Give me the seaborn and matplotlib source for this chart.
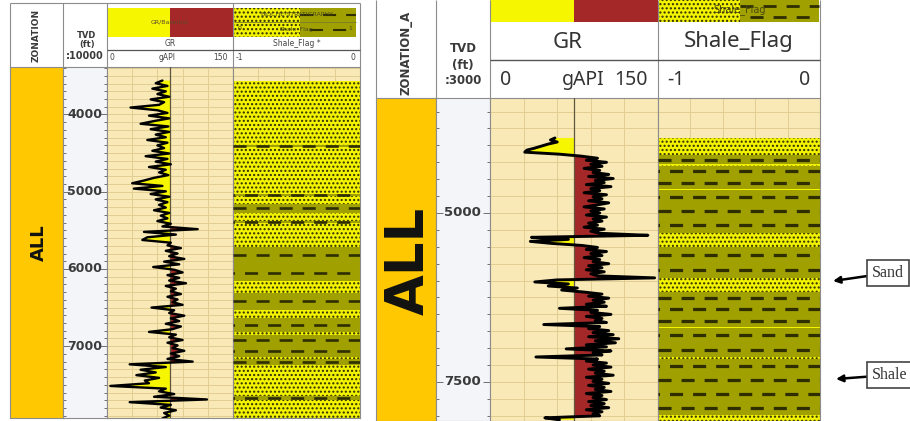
import numpy as np
import matplotlib
matplotlib.use('Agg')
import matplotlib.pyplot as plt
from matplotlib.patches import Rectangle
from matplotlib.ticker import MultipleLocator
import seaborn as sns

sns.set_style('white')
plt.rcParams['font.family'] = ['DejaVu Sans']
plt.rcParams['hatch.linewidth'] = 1.0
plt.rcParams['lines.scale_dashes'] = False

# scales
GR_MIN, GR_MAX, GR_BASE = 0, 150, 75
FLAG_MIN, FLAG_MAX = -1, 0
ZONE = 'ALL'

# left well: GR (gAPI) sampled from 3560 ft every 35 ft
LEFT_GR_START, LEFT_GR_STEP = 3560, 35
LEFT_GR = [
    66, 58, 72, 54, 70, 60, 74, 52, 68, 62,
    28, 60,
    72, 50, 74, 56, 40, 73, 52, 74, 58, 70, 48, 72, 60, 68,
    54, 74, 46, 72, 58, 76, 50, 70, 62, 73, 56,
    44, 30, 66, 32,
    70, 52, 74, 58, 72, 62, 70,
    56, 74, 64, 72, 60, 76, 66,
    108, 44, 82, 48, 42, 76,
    72, 88, 70, 84, 74, 92, 68, 86, 55, 80,
    90, 72, 86, 74, 94, 70, 82, 76, 88, 72,
    84, 78, 90, 53, 80, 74, 92, 76, 86, 70,
    88, 78, 50, 82, 74, 90, 72, 84, 78, 92,
    76, 86, 72, 102, 27, 70,
    40, 58, 35, 62, 45, 50,
    4,
    70, 62, 80, 56, 119, 27, 76, 64, 82, 68, 74, 66,
]
# left well: lithology beds (boundaries in ft)
LEFT_BED_BOUNDS = [3560, 4390, 4425, 5030, 5060, 5160, 5270, 5380, 5410, 5710, 6160,
                   6310, 6530, 6640, 6815, 6850, 7140, 7170, 7240, 7640, 7700, 7930]
LEFT_BED_LITH = ['sand', 'shale', 'sand', 'shale', 'sand', 'shale', 'sand', 'shale',
                 'sand', 'shale', 'sand', 'shale', 'sand', 'shale', 'sand', 'shale',
                 'sand', 'shale', 'sand', 'shale', 'sand']

# right well: GR (gAPI) sampled from 3890 ft every 30 ft
RIGHT_GR_START, RIGHT_GR_STEP = 3890, 30
RIGHT_GR = [
    58, 54, 60, 52, 46, 40, 33, 31,
    62,
    82, 96, 86, 104, 90, 100, 84, 98, 92, 106, 88, 110, 94, 102, 86, 108, 90, 98, 84, 104,
    92, 100, 88, 106, 96, 84, 102, 90, 98, 86, 104, 92, 100, 88, 96, 84, 102, 90, 98, 141,
    37, 70, 36, 55, 82,
    96, 86, 104, 90, 100, 84, 98, 92, 106, 88, 100, 86, 102, 90, 96,
    147, 60, 40, 70, 52, 78, 64,
    84, 100, 88, 106, 92, 102, 86, 104, 62, 96, 90, 108, 86, 100, 94, 104, 48, 98, 88,
    106, 92, 110, 88, 115, 94, 112, 86, 104, 68, 108, 92, 100, 41, 96, 86, 104, 92, 108,
    88, 102, 94, 110, 86, 100, 92, 106, 88, 102, 94, 108, 86, 100, 92, 104, 88,
    102, 90, 106, 86, 100, 92, 98, 49, 62,
]
RIGHT_BED_BOUNDS = [3890, 4140, 4280, 4300, 4640, 4660, 5290, 5500, 5960, 6170,
                    6680, 6700, 7135, 7160, 7985, 8090]
RIGHT_BED_LITH = ['sand', 'shale', 'sand', 'shale', 'sand', 'shale', 'sand', 'shale',
                  'sand', 'shale', 'sand', 'shale', 'sand', 'shale', 'sand']

# colours
GOLD = '#FFC800'
BEIGE = '#F8E9B6'
YELLOW = '#F6F600'
RED = '#A52828'
SAND = '#F3F300'
SHALE = '#A0A000'
DOT = '#2e2e08'
DASH = '#2e2e00'
GRID = '#E2CE92'
TVD_BG = '#F3F5F9'
EDGE = '#8c8c8c'
TXT = '#3a3a3a'
DASH_SPACING = 190  # ft between shale dash rows

W, H = 910, 421

LEFT_PANEL = dict(cols=(10, 63, 107, 233, 360), body=(67, 418), depth=(3385, 7930),
                  grid=100, label=1000, label_x=0.89, label_fs=9, lw=1.7,
                  dash=(9.4, 7.2), dash_lw=1.9)
RIGHT_PANEL = dict(cols=(376, 436, 490, 658, 820), body=(98, 421), depth=(3299, 8077),
                   grid=250, label=2500, label_x=0.83, label_fs=9.5, lw=2.1,
                   dash=(9.4, 7.2), dash_lw=2.3)

fig = plt.figure(figsize=(W / 100, H / 100), dpi=100)
ov = fig.add_axes([0, 0, 1, 1], zorder=10)
ov.set_xlim(0, W)
ov.set_ylim(H, 0)
ov.axis('off')


def px_rect(x0, y0, x1, y1):
    return [x0 / W, 1 - y1 / H, (x1 - x0) / W, (y1 - y0) / H]


def hline(y, x0, x1, color=EDGE, lw=0.8):
    ov.plot([x0, x1], [y, y], color=color, lw=lw, solid_capstyle='butt')


def vline(x, y0, y1, color=EDGE, lw=0.8):
    ov.plot([x, x], [y0, y1], color=color, lw=lw, solid_capstyle='butt')


def litho_box(x0, y0, x1, y1, lith, dash_lw, rows=1):
    if lith == 'sand':
        ov.add_patch(Rectangle((x0, y0), x1 - x0, y1 - y0, facecolor=SAND, hatch='....',
                               edgecolor=DOT, lw=0))
    else:
        ov.add_patch(Rectangle((x0, y0), x1 - x0, y1 - y0, facecolor=SHALE, lw=0))
        for k in range(rows):
            y = y0 + (k + 0.5) * (y1 - y0) / rows
            ov.plot([x0, x1], [y, y], color=DASH, lw=dash_lw,
                    dashes=(9.4, 7.2) if k % 2 == 0 else (0, 7.2, 9.4, 0.01))


def draw_tracks(cfg, gr_start, gr_step, gr_values, bounds, lith):
    xz, xt, xg, xf, xe = cfg['cols']
    yt, yb = cfg['body']
    top, base = cfg['depth']

    ax_zone = fig.add_axes(px_rect(xz, yt, xt, yb))
    ax_tvd = fig.add_axes(px_rect(xt, yt, xg, yb), sharey=ax_zone)
    ax_gr = fig.add_axes(px_rect(xg, yt, xf, yb), sharey=ax_zone)
    ax_flag = fig.add_axes(px_rect(xf, yt, xe, yb), sharey=ax_zone)
    ax_zone.set_ylim(base, top)
    ax_zone.yaxis.set_major_locator(MultipleLocator(cfg['label']))
    ax_zone.yaxis.set_minor_locator(MultipleLocator(cfg['grid']))

    for ax in (ax_zone, ax_tvd, ax_gr, ax_flag):
        ax.tick_params(which='both', left=False, right=False, bottom=False,
                       labelleft=False, labelbottom=False)
        for s in ax.spines.values():
            s.set_color(EDGE)
            s.set_linewidth(0.8)
    ax_zone.set_facecolor(GOLD)
    ax_zone.set_xticks([])
    ax_tvd.set_xticks([])

    # depth column
    ax_tvd.set_facecolor(TVD_BG)
    ax_tvd.tick_params(axis='y', which='both', left=True, right=True, direction='in',
                       color='#6f6f6f', width=0.7)
    ax_tvd.tick_params(axis='y', which='major', length=5)
    ax_tvd.tick_params(axis='y', which='minor', length=2.5)
    for d in ax_tvd.yaxis.get_majorticklocs():
        if top < d < base:
            ax_tvd.text(cfg['label_x'], d, f'{d:.0f}', transform=ax_tvd.get_yaxis_transform(),
                        ha='right', va='center', fontsize=cfg['label_fs'],
                        fontweight='bold', color=TXT)

    # GR track with baseline shading
    depth = gr_start + gr_step * np.arange(len(gr_values))
    gr = np.asarray(gr_values, dtype=float)
    ax_gr.set_facecolor(BEIGE)
    ax_gr.set_xlim(GR_MIN, GR_MAX)
    ax_gr.set_xticks(np.arange(GR_MIN, GR_MAX + 1, 30))
    ax_gr.grid(True, which='both', color=GRID, lw=0.7)
    ax_gr.set_axisbelow(True)
    ax_gr.fill_betweenx(depth, gr, GR_BASE, where=gr <= GR_BASE, interpolate=True,
                        color=YELLOW, lw=0, zorder=2)
    ax_gr.fill_betweenx(depth, gr, GR_BASE, where=gr >= GR_BASE, interpolate=True,
                        color=RED, lw=0, zorder=2)
    ax_gr.axvline(GR_BASE, color='#5f5640', lw=0.9, zorder=3)
    sns.lineplot(x=gr, y=depth, orient='y', sort=False, estimator=None, color='black',
                 lw=cfg['lw'], ax=ax_gr, zorder=4, legend=False)
    ax_gr.set_xlabel('')
    ax_gr.set_ylabel('')

    # Shale_Flag track
    ax_flag.set_facecolor(BEIGE)
    ax_flag.set_xlim(FLAG_MIN, FLAG_MAX)
    ax_flag.set_xticks(np.linspace(FLAG_MIN, FLAG_MAX, 6))
    ax_flag.grid(True, which='both', color=GRID, lw=0.7)
    ax_flag.set_axisbelow(True)
    tops, bases = np.array(bounds[:-1], float), np.array(bounds[1:], float)
    sand = np.array(lith) == 'sand'
    ax_flag.barh((tops + bases)[sand] / 2, FLAG_MAX - FLAG_MIN, height=(bases - tops)[sand],
                 left=FLAG_MIN, color=SAND, hatch='....', edgecolor=DOT, linewidth=0, zorder=2)
    ax_flag.barh((tops + bases)[~sand] / 2, FLAG_MAX - FLAG_MIN, height=(bases - tops)[~sand],
                 left=FLAG_MIN, color=SHALE, linewidth=0, zorder=2)
    rows = []
    for t, b in zip(tops[~sand], bases[~sand]):
        n = max(1, int(round((b - t) / DASH_SPACING)))
        rows.extend(t + (np.arange(n) + 0.5) * (b - t) / n)
    on, off = cfg['dash']
    styles = [((i % 2) * (on + off) / 2, (on, off)) for i in range(len(rows))]
    ax_flag.hlines(rows, FLAG_MIN, FLAG_MAX, colors=DASH, linewidth=cfg['dash_lw'],
                   linestyles=styles, zorder=3)

    ax_zone.set_ylim(base, top)


draw_tracks(LEFT_PANEL, LEFT_GR_START, LEFT_GR_STEP, LEFT_GR, LEFT_BED_BOUNDS, LEFT_BED_LITH)
draw_tracks(RIGHT_PANEL, RIGHT_GR_START, RIGHT_GR_STEP, RIGHT_GR, RIGHT_BED_BOUNDS, RIGHT_BED_LITH)


def base_x(cols):
    xg, xf = cols[2], cols[3]
    return xg + (GR_BASE - GR_MIN) / (GR_MAX - GR_MIN) * (xf - xg)


# ---- left header ----
xz, xt, xg, xf, xe = LEFT_PANEL['cols']
xb = base_x(LEFT_PANEL['cols'])
for x in (xz, xt, xg, xf, xe):
    vline(x, 3, 67)
hline(3, xz, xe)
ov.add_patch(Rectangle((xg, 8), xb - xg, 29, facecolor=YELLOW, lw=0))
ov.add_patch(Rectangle((xb, 8), xf - xb, 29, facecolor=RED, lw=0))
ov.text((xg + xf) / 2, 22, 'GR/Baseline', ha='center', va='center', fontsize=4.5, color='#5a4a2a')
litho_box(xf + 1, 8, 300, 37, 'sand', 1.5)
litho_box(300, 8, xe - 4, 37, 'shale', 1.5, rows=2)
hline(22, xf + 1, xe - 4, color='#7a7a30', lw=0.6)
ov.text((xf + xe) / 2, 15, 'BIOCHE-STRATIGRAPHY', ha='center', va='center', fontsize=4.5, color='#4a4a20')
ov.text(xf + 5, 29, '0', ha='left', va='center', fontsize=4.5, color='#4a4a20')
ov.text((xf + xe) / 2, 29, 'Shale_Flag', ha='center', va='center', fontsize=4.5, color='#4a4a20')
ov.text(xe - 8, 29, '1', ha='right', va='center', fontsize=4.5, color='#4a4a20')
ov.text((xg + xf) / 2, 44, 'GR', ha='center', va='center', fontsize=5.5, color='#444444')
ov.text((xf + xe) / 2, 44, 'Shale_Flag *', ha='center', va='center', fontsize=5.5, color='#444444')
hline(50, xg, xe, color='#555555', lw=0.9)
for x, s, ha in ((xg + 3, '0', 'left'), ((xg + xf) / 2 - 3, 'gAPI', 'center'), (xf - 5, '150', 'right'),
                 (xf + 3, '-1', 'left'), (xe - 5, '0', 'right')):
    ov.text(x, 58, s, ha=ha, va='center', fontsize=5.5, color='#444444')
ov.text((xz + xt) / 2, 35, 'ZONATION', rotation=90, ha='center', va='center',
        fontsize=6.5, fontweight='bold', color=TXT)
ov.text((xt + xg) / 2 + 2, 36, 'TVD', ha='center', va='center', fontsize=6, fontweight='bold', color=TXT)
ov.text((xt + xg) / 2 + 2, 44, '(ft)', ha='center', va='center', fontsize=6, fontweight='bold', color=TXT)
t = ov.text(xt + 3, 56, ':10000', ha='left', va='center', fontsize=7, fontweight='bold', color=TXT)
t.set_clip_path(Rectangle((xt, 3), xg - xt, 64, transform=ov.transData))
ov.text((xz + xt) / 2 + 2, 243, ZONE, rotation=90, ha='center', va='center',
        fontsize=13, fontweight='bold', color='#111111')

# ---- right header ----
xz, xt, xg, xf, xe = RIGHT_PANEL['cols']
xb = base_x(RIGHT_PANEL['cols'])
for x in (xz, xt, xg, xf, xe):
    vline(x, 0, 98)
ov.add_patch(Rectangle((xg, 0), xb - xg, 22, facecolor=YELLOW, lw=0))
ov.add_patch(Rectangle((xb, 0), xf - xb, 22, facecolor=RED, lw=0))
litho_box(xf + 1, 0, 740, 22, 'sand', 2.0)
litho_box(740, 0, xe - 1, 22, 'shale', 2.0, rows=2)
ov.text(740, 10, 'Shale_Flag', ha='center', va='center', fontsize=7, color='#4a4a10')
ov.text((xg + xf) / 2 - 6, 42, 'GR', ha='center', va='center', fontsize=16,
        family='Noto Sans', color='#333333')
ov.text((xf + xe) / 2, 42, 'Shale_Flag', ha='center', va='center', fontsize=16,
        family='Noto Sans', color='#333333')
hline(60, xg, xe, color='#555555', lw=1.0)
for x, s, ha in ((xg + 10, '0', 'left'), (583, 'gAPI', 'center'), (xf - 10, '150', 'right'),
                 (xf + 9, '-1', 'left'), (xe - 10, '0', 'right')):
    ov.text(x, 80, s, ha=ha, va='center', fontsize=14, family='Noto Sans', color='#333333')
ov.text((xz + xt) / 2, 95, 'ZONATION_A', rotation=90, ha='center', va='bottom',
        fontsize=8.5, fontweight='bold', color=TXT)
for y, s in ((49, 'TVD'), (65, '(ft)'), (81, ':3000')):
    ov.text((xt + xg) / 2, y, s, ha='center', va='center', fontsize=8.5, fontweight='bold', color=TXT)
ov.text((xz + xt) / 2 + 3, 261, ZONE, rotation=90, ha='center', va='center',
        fontsize=38, fontweight='bold', color='#111111')

# ---- callouts ----
box = dict(boxstyle='square,pad=0.3', fc='white', ec='#444444', lw=1.2)
arrow = dict(arrowstyle='-|>', color='black', lw=1.8, mutation_scale=10, shrinkA=0, shrinkB=0)
ov.annotate('Sand', xy=(833, 281), xytext=(872, 273), ha='left', va='center', fontsize=11.5,
            family='Liberation Serif', color='#333333', bbox=box, arrowprops=arrow)
ov.annotate('Shale', xy=(836, 379), xytext=(872, 375), ha='left', va='center', fontsize=11.5,
            family='Liberation Serif', color='#333333', bbox=box, arrowprops=arrow)

fig.savefig('out.png', dpi=100)
